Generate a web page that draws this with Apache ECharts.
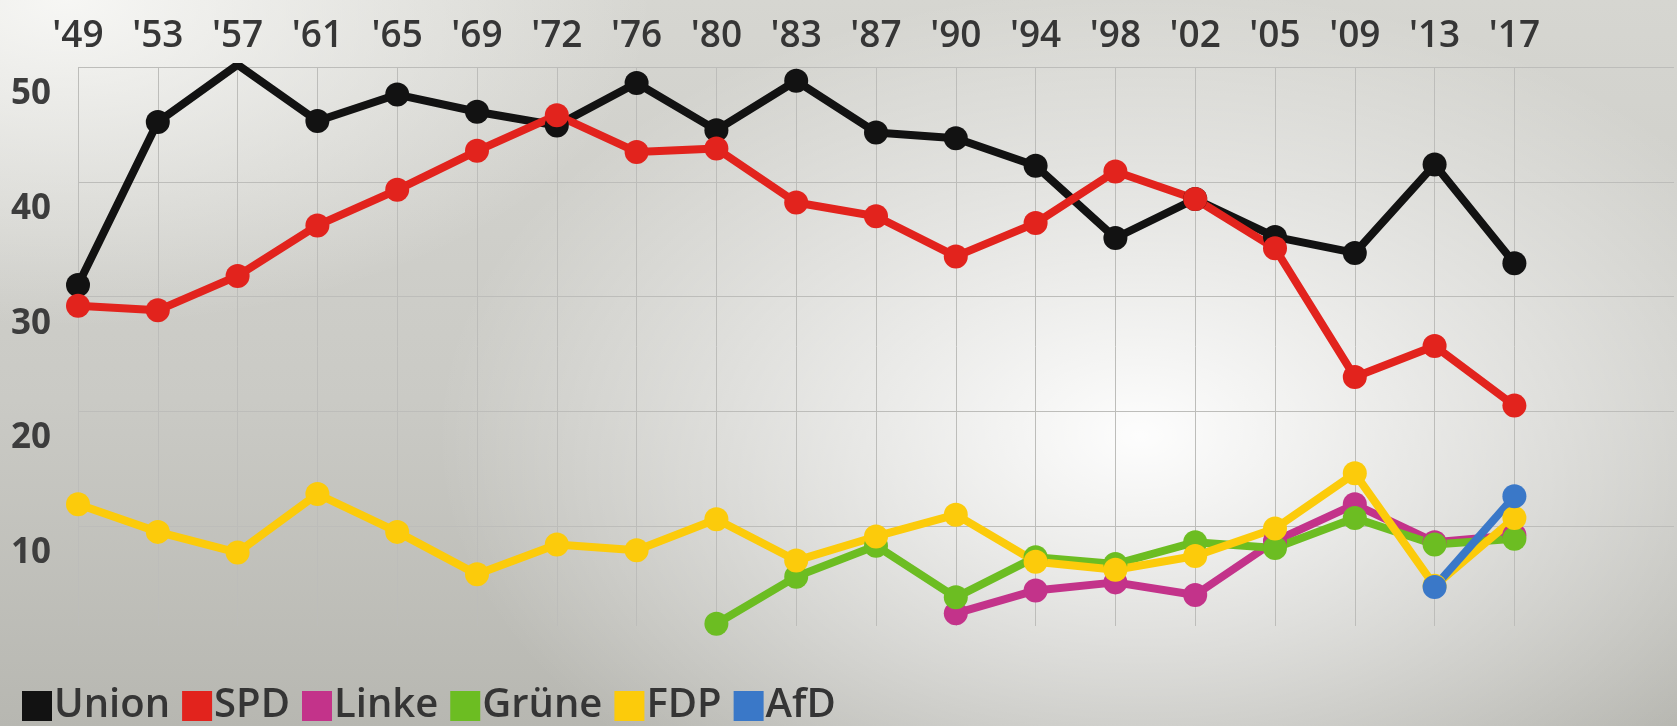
<!DOCTYPE html>
<html>
<head>
<meta charset="utf-8">
<script src="https://cdn.jsdelivr.net/npm/echarts@6/dist/echarts.min.js"></script>
<style>
  html, body { margin: 0; padding: 0; }
  #chart {
    width: 1677px; height: 726px;
    background:
      radial-gradient(ellipse 42% 62% at 68% 60%, rgba(255,255,255,0.97), rgba(255,255,255,0) 100%),
      radial-gradient(ellipse 35% 45% at 4% 0%, rgba(250,250,248,0.9), rgba(250,250,248,0) 100%),
      linear-gradient(to bottom, #d6d6d1 0%, #cacac5 55%, #b7b7b1 100%);
  }
</style>
</head>
<body>
<div id="chart"></div>
<script>
// Wahljahre (zwei leere Kategorien rechts als Freiraum)
const years = ["'49", "'53", "'57", "'61", "'65", "'69", "'72", "'76", "'80", "'83",
  "'87", "'90", "'94", "'98", "'02", "'05", "'09", "'13", "'17", '', ''];
const yTicks = [10, 20, 30, 40, 50];

const union = [31.0, 45.2, 50.2, 45.3, 47.6, 46.1, 44.9, 48.6, 44.5, 48.8, 44.3, 43.8, 41.4, 35.1, 38.5, 35.2, 33.8, 41.5, 32.9];
const spd = [29.2, 28.8, 31.8, 36.2, 39.3, 42.7, 45.8, 42.6, 42.9, 38.2, 37.0, 33.5, 36.4, 40.9, 38.5, 34.2, 23.0, 25.7, 20.5];
const linke = [null, null, null, null, null, null, null, null, null, null, null, 2.4, 4.4, 5.1, 4.0, 8.7, 11.9, 8.6, 9.2];
const gruene = [null, null, null, null, null, null, null, null, 1.5, 5.6, 8.3, 3.8, 7.3, 6.7, 8.6, 8.1, 10.7, 8.4, 8.9];
const fdp = [11.9, 9.5, 7.7, 12.8, 9.5, 5.8, 8.4, 7.9, 10.6, 7.0, 9.1, 11.0, 6.9, 6.2, 7.4, 9.8, 14.6, 4.8, 10.7];
const afd = [null, null, null, null, null, null, null, null, null, null, null, null, null, null, null, null, null, 4.7, 12.6];

const parties = ['Union', 'SPD', 'Linke', 'Grüne', 'FDP', 'AfD'];
const colors = ['#121212', '#e2231d', '#c3338a', '#6cbd22', '#fccb0b', '#3a78c8'];
const values = [union, spd, linke, gruene, fdp, afd];

let myChart = echarts.init(document.getElementById('chart'));

function mkSeries(i) {
  return {
    name: parties[i],
    type: 'line',
    data: values[i],
    symbol: 'circle',
    symbolSize: 24,
    lineStyle: { width: 8, color: colors[i] },
    itemStyle: { color: colors[i] },
    connectNulls: false,
    animation: false
  };
}

myChart.setOption({
  color: colors,
  textStyle: { fontFamily: 'Open Sans' },
  legend: {
    data: parties,
    left: 17,
    top: 681,
    icon: 'rect',
    itemWidth: 30,
    itemHeight: 30,
    itemGap: 12,
    textStyle: { fontSize: 40, fontWeight: 600, color: '#353535', fontFamily: 'Open Sans', padding: [0, 0, 0, -3] }
  },
  grid: { left: 78, right: 0, top: 67, bottom: 100 },
  xAxis: {
    type: 'category',
    position: 'top',
    data: years,
    boundaryGap: false,
    axisLine: { show: false },
    axisTick: { show: false },
    axisLabel: {
      interval: 0,
      fontSize: 37,
      fontWeight: 600,
      color: '#363636',
      fontFamily: 'Open Sans',
      margin: 12
    },
    splitLine: {
      show: true,
      interval: function (i) { return i <= 18; },
      lineStyle: { color: '#bdbdba', width: 1 }
    }
  },
  yAxis: {
    type: 'value',
    min: 1.3,
    max: 50,
    axisLine: { show: false },
    axisTick: { show: false, customValues: yTicks },
    axisLabel: {
      customValues: yTicks,
      fontSize: 35,
      fontWeight: 'bold',
      color: '#3d3d3d',
      fontFamily: 'Open Sans',
      align: 'right',
      verticalAlign: 'top',
      lineHeight: 54,
      margin: 27
    },
    splitLine: { show: true, lineStyle: { color: '#bdbdba', width: 1 } }
  },
  series: [0, 1, 2, 3, 4, 5].map(mkSeries)
});
</script>
</body>
</html>
